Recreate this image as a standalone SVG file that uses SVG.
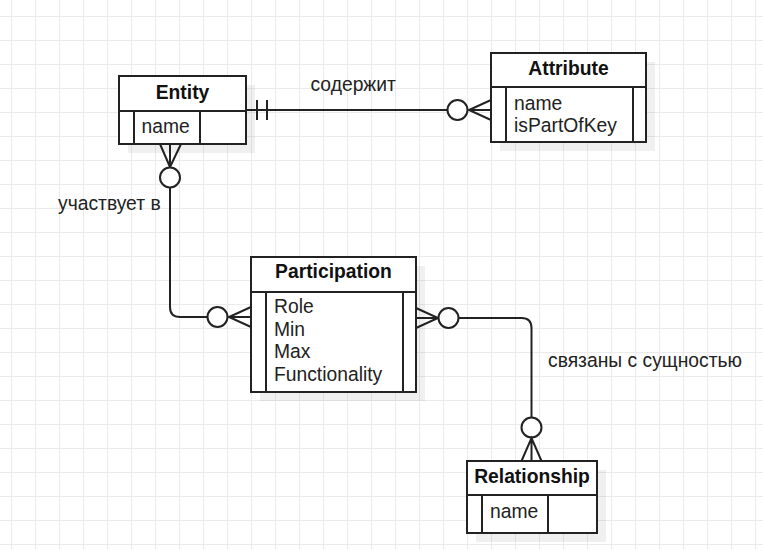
<svg xmlns="http://www.w3.org/2000/svg" width="763" height="550" viewBox="0 0 763 550">
  <defs>
    <pattern id="grid" width="24" height="24" patternUnits="userSpaceOnUse">
      <path d="M11.5,0 V24 M0,16.5 H24" stroke="#ebebeb" stroke-width="1" fill="none"/>
    </pattern>
    <style>
      .box { fill: #ffffff; stroke: #222222; stroke-width: 2; }
      .ln { fill: none; stroke: #222222; stroke-width: 2; }
      .shadow { fill: #000000; fill-opacity: 0.06; }
      .title { font-family: "Liberation Sans", Arial, sans-serif; font-size: 19.3px; font-weight: bold; fill: #111111; text-anchor: middle; }
      .row { font-family: "Liberation Sans", Arial, sans-serif; font-size: 19.3px; fill: #222222; }
      .lbl { font-family: "Liberation Sans", Arial, sans-serif; font-size: 19.3px; fill: #222222; }
      .circ { fill: #ffffff; stroke: #222222; stroke-width: 2; }
    </style>
  </defs>
  <rect width="763" height="550" fill="#ffffff"/>
  <rect width="763" height="550" fill="url(#grid)"/>

  <g id="connectors">
    <!-- Entity to Attribute -->
    <g id="edge-contains">
      <path class="ln" d="M246,110 H447"/>
      <path class="ln" d="M257,100 V120 M267,100 V120"/>
      <circle class="circ" cx="457.5" cy="110" r="10"/>
      <path class="ln" d="M491,100 L469,110 L491,120 M469,110 H491"/>
    </g>
    <!-- Entity to Participation -->
    <g id="edge-participates">
      <path class="ln" d="M160,144 L170,167 L181,144 M170,167 V144"/>
      <circle class="circ" cx="170" cy="177.5" r="10"/>
      <path class="ln" d="M170,187.5 V307 Q170,317 180,317 H207.5"/>
      <circle class="circ" cx="217.5" cy="317" r="10"/>
      <path class="ln" d="M251,307 L229,317 L251,327 M229,317 H251"/>
    </g>
    <!-- Participation to Relationship -->
    <g id="edge-related">
      <path class="ln" d="M416,308 L438,318 L416,328 M438,318 H416"/>
      <circle class="circ" cx="448.5" cy="318" r="10"/>
      <path class="ln" d="M458.5,318 H521.5 Q531.5,318 531.5,328 V417.5"/>
      <circle class="circ" cx="531.5" cy="427.5" r="10"/>
      <path class="ln" d="M521.5,461 L531.5,438 L541.5,461 M531.5,438 V461"/>
    </g>
    <text class="lbl" x="310.5" y="91">содержит</text>
    <text class="lbl" x="58" y="210">участвует в</text>
    <text class="lbl" x="548" y="367">связаны с сущностью</text>
  </g>

  <g id="entity">
    <rect class="shadow" x="128" y="85" width="127" height="68"/>
    <rect class="box" x="119" y="76" width="127" height="68"/>
    <path class="ln" d="M119,111 H246 M134,111 V144 M200,111 V144"/>
    <text class="title" x="182.5" y="99">Entity</text>
    <text class="row" x="141.5" y="133">name</text>
  </g>

  <g id="attribute">
    <rect class="shadow" x="500" y="62" width="155" height="89"/>
    <rect class="box" x="491" y="53" width="155" height="89"/>
    <path class="ln" d="M491,87 H646 M506,87 V142 M633,87 V142"/>
    <text class="title" x="568.5" y="75">Attribute</text>
    <text class="row" x="514" y="110">name</text>
    <text class="row" x="514" y="132">isPartOfKey</text>
  </g>

  <g id="participation">
    <rect class="shadow" x="260" y="266" width="165" height="135"/>
    <rect class="box" x="251" y="257" width="165" height="135"/>
    <path class="ln" d="M251,292 H416 M266,292 V392 M403,292 V392"/>
    <text class="title" x="333.5" y="278">Participation</text>
    <text class="row" x="274" y="313">Role</text>
    <text class="row" x="274" y="336">Min</text>
    <text class="row" x="274" y="358">Max</text>
    <text class="row" x="274" y="381">Functionality</text>
  </g>

  <g id="relationship">
    <rect class="shadow" x="476" y="470" width="130" height="72"/>
    <rect class="box" x="467" y="461" width="130" height="72"/>
    <path class="ln" d="M467,495 H597 M482,495 V533 M548,495 V533"/>
    <text class="title" x="532" y="483">Relationship</text>
    <text class="row" x="490" y="518">name</text>
  </g>
</svg>
